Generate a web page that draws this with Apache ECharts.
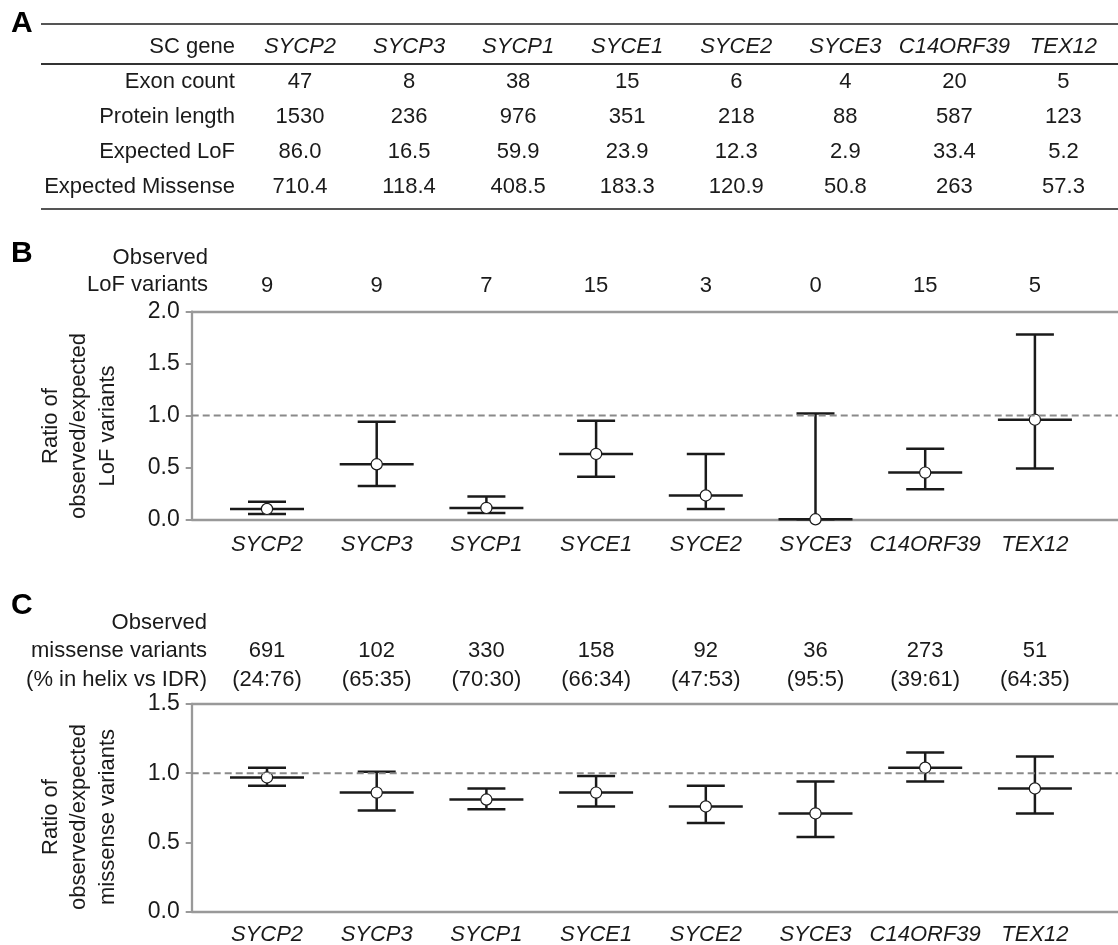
<!DOCTYPE html>
<html>
<head>
<meta charset="utf-8">
<script src="https://cdn.jsdelivr.net/npm/echarts@6/dist/echarts.min.js"></script>
<style>
  html, body { margin: 0; padding: 0; background: #fff; }
  #chart { width: 1118px; height: 945px; }
</style>
</head>
<body>
<div id="chart"></div>
<script>
// ---- data ----
var genes = ['SYCP2', 'SYCP3', 'SYCP1', 'SYCE1', 'SYCE2', 'SYCE3', 'C14ORF39', 'TEX12'];
var rowNames = ['SC gene', 'Exon count', 'Protein length', 'Expected LoF', 'Expected Missense'];
var exonCount = [47, 8, 38, 15, 6, 4, 20, 5];
var proteinLength = [1530, 236, 976, 351, 218, 88, 587, 123];
var expectedLoF = ['86.0', '16.5', '59.9', '23.9', '12.3', '2.9', '33.4', '5.2'];
var expectedMissense = ['710.4', '118.4', '408.5', '183.3', '120.9', '50.8', '263', '57.3'];

var observedLoF = [9, 9, 7, 15, 3, 0, 15, 5];
var lofRatio = [0.10, 0.53, 0.11, 0.63, 0.23, 0.00, 0.45, 0.96];
var lofLow = [0.05, 0.32, 0.06, 0.41, 0.10, 0.00, 0.29, 0.49];
var lofHigh = [0.17, 0.94, 0.22, 0.95, 0.63, 1.02, 0.68, 1.78];

var observedMissense = [691, 102, 330, 158, 92, 36, 273, 51];
var helixIdr = ['24:76', '65:35', '70:30', '66:34', '47:53', '95:5', '39:61', '64:35'];
var misRatio = [0.97, 0.86, 0.81, 0.86, 0.76, 0.71, 1.04, 0.89];
var misLow = [0.91, 0.73, 0.74, 0.76, 0.64, 0.54, 0.94, 0.71];
var misHigh = [1.04, 1.01, 0.89, 0.98, 0.91, 0.94, 1.15, 1.12];

var refLine = 1;

// ---- styles ----
var FONT = '"Liberation Sans", Arial, sans-serif';
var INK = '#1a1a1a';
var AXIS = '#999999';
var FS = 22;

var tableRows = [genes, exonCount, proteinLength, expectedLoF, expectedMissense];
var tableCells = [];
tableRows.forEach(function (row, r) {
  row.forEach(function (v, c) { tableCells.push({ c: c, r: r, text: String(v) }); });
});

function errorBars(xIdx, yIdx, mid, low, high) {
  return {
    type: 'custom',
    xAxisIndex: xIdx,
    yAxisIndex: yIdx,
    silent: true,
    data: genes.map(function (g, i) { return [i, low[i], mid[i], high[i]]; }),
    encode: { x: 0, y: [1, 2, 3] },
    renderItem: function (params, api) {
      var i = api.value(0);
      var lo = api.coord([i, api.value(1)]);
      var m = api.coord([i, api.value(2)]);
      var hi = api.coord([i, api.value(3)]);
      var cx = m[0];
      var st = { stroke: INK, lineWidth: 2.5 };
      function seg(x1, y1, x2, y2) {
        return { type: 'line', shape: { x1: x1, y1: y1, x2: x2, y2: y2 }, style: st };
      }
      return {
        type: 'group',
        children: [
          seg(cx, hi[1], cx, lo[1]),
          seg(cx - 19, hi[1], cx + 19, hi[1]),
          seg(cx - 19, lo[1], cx + 19, lo[1]),
          seg(cx - 37, m[1], cx + 37, m[1]),
          { type: 'circle', shape: { cx: cx, cy: m[1], r: 5.6 },
            style: { fill: '#fff', stroke: INK, lineWidth: 1.2 } }
        ]
      };
    }
  };
}

function refSeries(xIdx, yIdx) {
  return {
    type: 'line', xAxisIndex: xIdx, yAxisIndex: yIdx, silent: true,
    symbol: 'none', data: [[0, refLine], [1, refLine]],
    lineStyle: { color: '#8a8a8a', width: 2, type: [7, 4] }
  };
}

function frameX(grid, pos) {
  return {
    type: 'value', gridIndex: grid, position: pos, min: 0, max: 1,
    axisLine: { show: true, onZero: false, lineStyle: { color: AXIS, width: 2.3 } },
    axisTick: { show: false }, axisLabel: { show: false }, splitLine: { show: false }
  };
}

function frameY(grid, max) {
  return {
    type: 'value', gridIndex: grid, min: 0, max: max, interval: 0.5,
    axisLine: { show: true, onZero: false, lineStyle: { color: AXIS, width: 2.3 } },
    axisTick: { show: true, length: 6, lineStyle: { color: AXIS, width: 2 } },
    axisLabel: { color: INK, fontSize: 23, fontFamily: FONT, margin: 12,
                 formatter: function (v) { return v.toFixed(1); } },
    splitLine: { show: false }
  };
}

function dataY(grid, max) {
  return { type: 'value', gridIndex: grid, min: 0, max: max, show: false };
}

function catX(grid, pos, margin, fmt, italic, lh) {
  return {
    type: 'category', gridIndex: grid, position: pos, data: genes, boundaryGap: true,
    axisLine: { show: false }, axisTick: { show: false },
    axisLabel: { color: INK, fontSize: FS, fontFamily: FONT, margin: margin,
                 fontStyle: italic ? 'italic' : 'normal', lineHeight: lh || FS,
                 interval: 0, formatter: fmt }
  };
}

var chart = echarts.init(document.getElementById('chart'));

var option = {
  animation: false,
  backgroundColor: '#fff',
  grid: [
    { left: 245.45, right: 0, top: 29.5, height: 175, outerBoundsMode: 'none' },
    { left: 191.7, right: 0, top: 311.7, height: 207.6, outerBoundsMode: 'none' },
    { left: 212.15, right: 28.25, top: 311.7, height: 207.6, outerBoundsMode: 'none' },
    { left: 191.7, right: 0, top: 704, height: 207.7, outerBoundsMode: 'none' },
    { left: 212.15, right: 28.25, top: 704, height: 207.7, outerBoundsMode: 'none' }
  ],
  xAxis: [
    { type: 'category', gridIndex: 0, data: genes, show: false },
    frameX(1, 'bottom'),
    frameX(1, 'top'),
    catX(2, 'bottom', 15, null, true),
    catX(2, 'top', 15, function (v, i) { return String(observedLoF[i]); }, false),
    frameX(3, 'bottom'),
    frameX(3, 'top'),
    catX(4, 'bottom', 12, null, true),
    catX(4, 'top', 10, function (v, i) {
      return observedMissense[i] + '\n(' + helixIdr[i] + ')';
    }, false, 29)
  ],
  yAxis: [
    { type: 'category', gridIndex: 0, data: rowNames, inverse: true,
      axisLine: { show: false }, axisTick: { show: false },
      axisLabel: { color: INK, fontSize: FS, fontFamily: FONT, margin: 10.5 } },
    frameY(1, 2),
    dataY(2, 2),
    frameY(3, 1.5),
    dataY(4, 1.5)
  ],
  graphic: [
    // table rules
    { type: 'line', shape: { x1: 41, y1: 24, x2: 1118, y2: 24 }, style: { stroke: '#555', lineWidth: 2 } },
    { type: 'line', shape: { x1: 41, y1: 64, x2: 1118, y2: 64 }, style: { stroke: '#333', lineWidth: 2 } },
    { type: 'line', shape: { x1: 41, y1: 209, x2: 1118, y2: 209 }, style: { stroke: '#555', lineWidth: 2 } },
    // panel letters
    { type: 'text', x: 11, y: 24, style: { text: 'A', font: 'bold 30px ' + FONT, fill: '#000', verticalAlign: 'middle' } },
    { type: 'text', x: 11, y: 254, style: { text: 'B', font: 'bold 30px ' + FONT, fill: '#000', verticalAlign: 'middle' } },
    { type: 'text', x: 11, y: 606, style: { text: 'C', font: 'bold 30px ' + FONT, fill: '#000', verticalAlign: 'middle' } },
    // header labels above the count rows
    { type: 'text', x: 208, y: 271.5, style: { text: 'Observed\nLoF variants', font: FS + 'px ' + FONT,
      fill: INK, align: 'right', verticalAlign: 'middle', lineHeight: 27 } },
    { type: 'text', x: 207, y: 651, style: { text: 'Observed\nmissense variants\n(% in helix vs IDR)', font: FS + 'px ' + FONT,
      fill: INK, align: 'right', verticalAlign: 'middle', lineHeight: 28.5 } },
    // y axis titles
    { type: 'text', x: 79, y: 426, rotation: Math.PI / 2,
      style: { text: 'Ratio of\nobserved/expected\nLoF variants', font: FS + 'px ' + FONT,
      fill: INK, align: 'center', verticalAlign: 'middle', lineHeight: 28.5 } },
    { type: 'text', x: 79, y: 817, rotation: Math.PI / 2,
      style: { text: 'Ratio of\nobserved/expected\nmissense variants', font: FS + 'px ' + FONT,
      fill: INK, align: 'center', verticalAlign: 'middle', lineHeight: 28.5 } }
  ],
  series: [
    {
      type: 'custom', xAxisIndex: 0, yAxisIndex: 0, silent: true,
      data: tableCells.map(function (d) { return [d.c, d.r]; }),
      renderItem: function (params, api) {
        var cell = tableCells[params.dataIndex];
        var p = api.coord([cell.c, cell.r]);
        return {
          type: 'text', x: p[0], y: p[1],
          style: { text: cell.text, fill: INK, align: 'center', verticalAlign: 'middle',
                   font: (cell.r === 0 ? 'italic ' : '') + FS + 'px ' + FONT }
        };
      }
    },
    refSeries(1, 1),
    errorBars(3, 2, lofRatio, lofLow, lofHigh),
    refSeries(5, 3),
    errorBars(7, 4, misRatio, misLow, misHigh)
  ]
};

chart.setOption(option);
</script>
</body>
</html>
